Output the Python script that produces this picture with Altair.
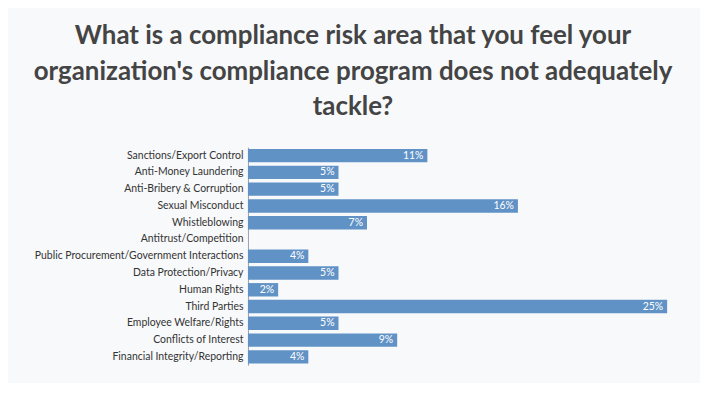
import altair as alt
import pandas as pd

categories = [
    "Sanctions/Export Control",
    "Anti-Money Laundering",
    "Anti-Bribery & Corruption",
    "Sexual Misconduct",
    "Whistleblowing",
    "Antitrust/Competition",
    "Public Procurement/Government Interactions",
    "Data Protection/Privacy",
    "Human Rights",
    "Third Parties",
    "Employee Welfare/Rights",
    "Conflicts of Interest",
    "Financial Integrity/Reporting",
]
values = [10.7, 5.4, 5.4, 16.1, 7.1, 0.0, 3.6, 5.4, 1.8, 25.0, 5.4, 8.9, 3.6]
labels = ["11%", "5%", "5%", "16%", "7%", "", "4%", "5%", "2%", "25%", "5%", "9%", "4%"]

df = pd.DataFrame({"category": categories, "value": values, "label": labels})

FONT = "Lato"
BAR = "#6192c6"

y_enc = alt.Y(
    "category:N",
    sort=categories,
    scale=alt.Scale(paddingInner=0.2, paddingOuter=0.1),
    axis=alt.Axis(
        title=None, ticks=False, labelPadding=5, labelFontSize=10.5,
        labelColor="#333333", labelFont=FONT, domainColor="#9aa0a8", domainWidth=1,
        labelLimit=400,
    ),
)
x_enc = alt.X("value:Q", scale=alt.Scale(domain=[0, 25], nice=False), axis=None)

bars = alt.Chart(df).mark_bar(color=BAR).encode(x=x_enc, y=y_enc)
text = alt.Chart(df).mark_text(
    align="right", baseline="middle", dx=-4, color="white", fontSize=10.5, font=FONT
).encode(x=x_enc, y=alt.Y("category:N", sort=categories), text="label:N")

chart = (
    alt.layer(bars, text)
    .properties(
        width=421,
        height=219,
        background="#f8f9fb",
        padding={"left": 241, "top": 139, "right": 33, "bottom": 17},
        autosize=alt.AutoSizeParams(type="none"),
        title=alt.TitleParams(
            text=[
                "What is a compliance risk area that you feel your",
                "organization's compliance program does not adequately",
                "tackle?",
            ],
            anchor="middle",
            frame="group",
            dx=-105,
            offset=27,
            fontSize=26,
            lineHeight=36,
            font=FONT,
            fontWeight="bold",
            color="#444444",
        ),
    )
    .configure_view(stroke=None)
)

chart.save("out.html", embed_options={"renderer": "svg", "actions": False})
